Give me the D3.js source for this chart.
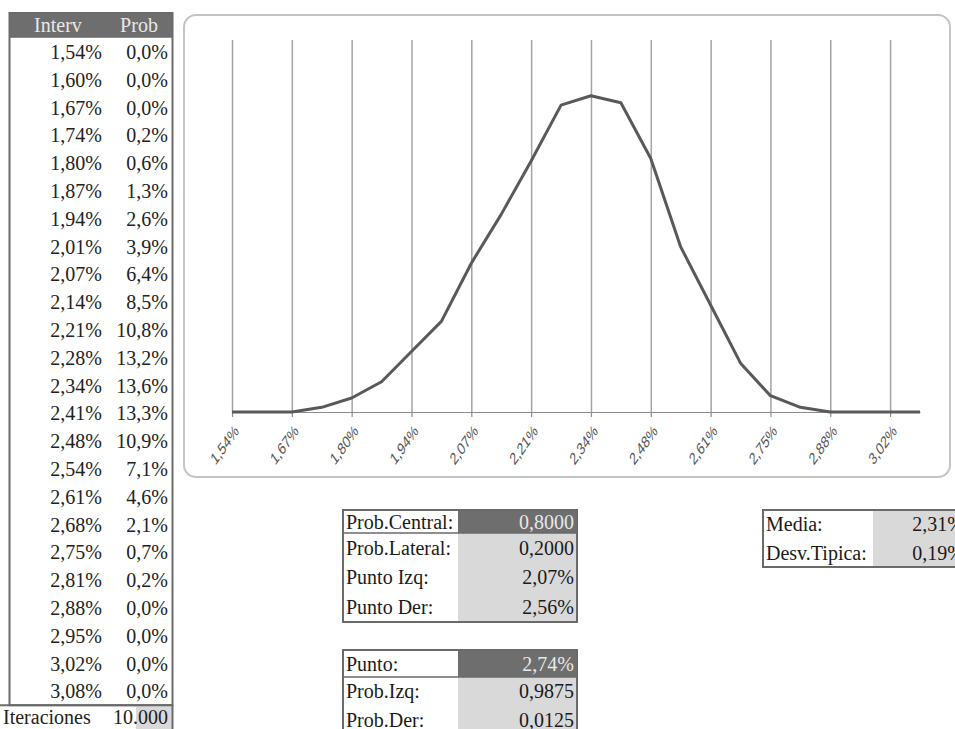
<!DOCTYPE html>
<html><head><meta charset="utf-8">
<script src="https://cdn.jsdelivr.net/npm/d3@7"></script>
<style>body{margin:0;background:#fff;} svg{display:block;}</style>
</head><body>
<svg id="c" width="955" height="729"></svg>
<script>
const intervals = ["1,54%","1,60%","1,67%","1,74%","1,80%","1,87%","1,94%","2,01%","2,07%","2,14%","2,21%","2,28%","2,34%","2,41%","2,48%","2,54%","2,61%","2,68%","2,75%","2,81%","2,88%","2,95%","3,02%","3,08%"];
const probs = [0.0,0.0,0.0,0.2,0.6,1.3,2.6,3.9,6.4,8.5,10.8,13.2,13.6,13.3,10.9,7.1,4.6,2.1,0.7,0.2,0.0,0.0,0.0,0.0];
const axisTicks = ["1,54%","1,67%","1,80%","1,94%","2,07%","2,21%","2,34%","2,48%","2,61%","2,75%","2,88%","3,02%"];
const iteraciones = "10.000";
const table1Labels = ["Prob.Central:","Prob.Lateral:","Punto Izq:","Punto Der:"];
const table1Values = ["0,8000","0,2000","2,07%","2,56%"];
const table2Labels = ["Punto:","Prob.Izq:","Prob.Der:"];
const table2Values = ["2,74%","0,9875","0,0125"];
const table3Labels = ["Media:","Desv.Tipica:"];
const table3Values = ["2,31%","0,19%"];

const svg = d3.select("#c");
const serif = "'Liberation Serif','Times New Roman',serif";
const sans = "'Liberation Sans',Arial,sans-serif";
const dark = "#6e6e6e", light = "#d9d9d9", border = "#6a6a6a";
const fmt = v => d3.format(".1f")(v).replace(".", ",") + "%";

// ---------- Left table ----------
const lt = svg.append("g");
const rowTop = 38, rowH = 27.8;
lt.append("rect").attr("x",9.5).attr("y",13).attr("width",163).attr("height",24).attr("fill",dark);
lt.append("text").attr("x",58).attr("y",25).attr("dy","0.35em").attr("text-anchor","middle")
  .attr("font-family",serif).attr("font-size",20).attr("fill","#e8e8e8").text("Interv");
lt.append("text").attr("x",139).attr("y",25).attr("dy","0.35em").attr("text-anchor","middle")
  .attr("font-family",serif).attr("font-size",20).attr("fill","#e8e8e8").text("Prob");
const rows = lt.selectAll("g.row").data(intervals).join("g").attr("class","row")
  .attr("transform",(d,i)=>`translate(0,${rowTop + rowH*i + rowH/2})`);
rows.append("text").attr("x",102).attr("dy","0.35em").attr("text-anchor","end")
  .attr("font-family",serif).attr("font-size",20).attr("fill","#222").text(d=>d);
rows.append("text").attr("x",168).attr("dy","0.35em").attr("text-anchor","end")
  .attr("font-family",serif).attr("font-size",20).attr("fill","#222").text((d,i)=>fmt(probs[i]));
const tableBottom = rowTop + rowH*intervals.length;
lt.append("line").attr("x1",9.5).attr("x2",172.5).attr("y1",37).attr("y2",37).attr("stroke",border).attr("stroke-width",1.5);
lt.append("rect").attr("x",9.5).attr("y",13).attr("width",163).attr("height",tableBottom-13)
  .attr("fill","none").attr("stroke",border).attr("stroke-width",2);
// Iteraciones row
lt.append("rect").attr("x",136).attr("y",tableBottom).attr("width",36.5).attr("height",729-tableBottom).attr("fill",light);
lt.append("line").attr("x1",0).attr("x2",172.5).attr("y1",tableBottom).attr("y2",tableBottom).attr("stroke",border).attr("stroke-width",2);
lt.append("line").attr("x1",172.5).attr("x2",172.5).attr("y1",tableBottom).attr("y2",729).attr("stroke",border).attr("stroke-width",2);
lt.append("text").attr("x",3).attr("y",tableBottom+12).attr("dy","0.35em")
  .attr("font-family",serif).attr("font-size",20).attr("fill","#222").text("Iteraciones");
lt.append("text").attr("x",168).attr("y",tableBottom+12).attr("dy","0.35em").attr("text-anchor","end")
  .attr("font-family",serif).attr("font-size",20).attr("fill","#222").text(iteraciones);

// ---------- Chart ----------
svg.append("rect").attr("x",184).attr("y",15).attr("width",766).attr("height",462).attr("rx",12)
  .attr("fill","#fff").attr("stroke","#c4c4c4").attr("stroke-width",2);
const x = d3.scalePoint().domain(intervals).range([232,920]);
const y = d3.scaleLinear().domain([0,16]).range([412,40]);

const grid = svg.append("g").attr("transform","translate(0,412)")
  .call(d3.axisBottom(x).tickValues(axisTicks).tickSizeInner(-372).tickSizeOuter(0).tickFormat(""));
grid.select(".domain").remove();
grid.selectAll(".tick line").attr("stroke","#a3a3a3").attr("stroke-width",1.5);

const ax = svg.append("g").attr("transform","translate(0,412)")
  .call(d3.axisBottom(x).tickValues(axisTicks).tickSizeInner(5).tickSizeOuter(0));
ax.select(".domain").attr("stroke","#8c8c8c").attr("stroke-width",1.2);
ax.selectAll(".tick line").attr("stroke","#8c8c8c").attr("stroke-width",1.2);
ax.selectAll(".tick text")
  .attr("font-family",sans).attr("font-size",12).attr("fill","#555")
  .attr("text-anchor","end").attr("y",0).attr("dy","0.35em")
  .attr("transform","translate(4,16) scale(1,1.4) rotate(-45)");

svg.append("path").datum(probs)
  .attr("fill","none").attr("stroke","#595959").attr("stroke-width",3).attr("stroke-linejoin","round")
  .attr("d", d3.line().x((d,i)=>x(intervals[i])).y(d=>y(d)));

// ---------- Summary tables ----------
function table(x0, splitX, x1, y0, rowHs, labels, values, headDark){
  const g = svg.append("g");
  let yy = y0;
  const tops = [];
  rowHs.forEach(h=>{tops.push(yy); yy += h;});
  const total = yy - y0;
  g.append("rect").attr("x",splitX).attr("y",y0).attr("width",x1-splitX).attr("height",total).attr("fill",light);
  if(headDark) g.append("rect").attr("x",splitX).attr("y",y0).attr("width",x1-splitX).attr("height",rowHs[0]).attr("fill",dark);
  labels.forEach((l,i)=>{
    const cy = tops[i] + rowHs[i]/2;
    g.append("text").attr("x",x0+3).attr("y",cy).attr("dy","0.35em")
      .attr("font-family",serif).attr("font-size",20).attr("fill","#1a1a1a").text(l);
    g.append("text").attr("x",x1-3).attr("y",cy).attr("dy","0.35em").attr("text-anchor","end")
      .attr("font-family",serif).attr("font-size",20).attr("fill",(headDark&&i===0)?"#e8e8e8":"#1a1a1a").text(values[i]);
  });
  if(headDark) g.append("line").attr("x1",x0).attr("x2",x1).attr("y1",y0+rowHs[0]).attr("y2",y0+rowHs[0]).attr("stroke",border).attr("stroke-width",1.5);
  g.append("rect").attr("x",x0).attr("y",y0).attr("width",x1-x0).attr("height",total)
    .attr("fill","none").attr("stroke",border).attr("stroke-width",2);
}
table(343,458,577,510,[23,29,30,30],table1Labels,table1Values,true);
table(343,458,577,650,[27,28,30],table2Labels,table2Values,true);
table(763,873,967,510,[28,29],table3Labels,table3Values,false);
</script>
</body></html>
